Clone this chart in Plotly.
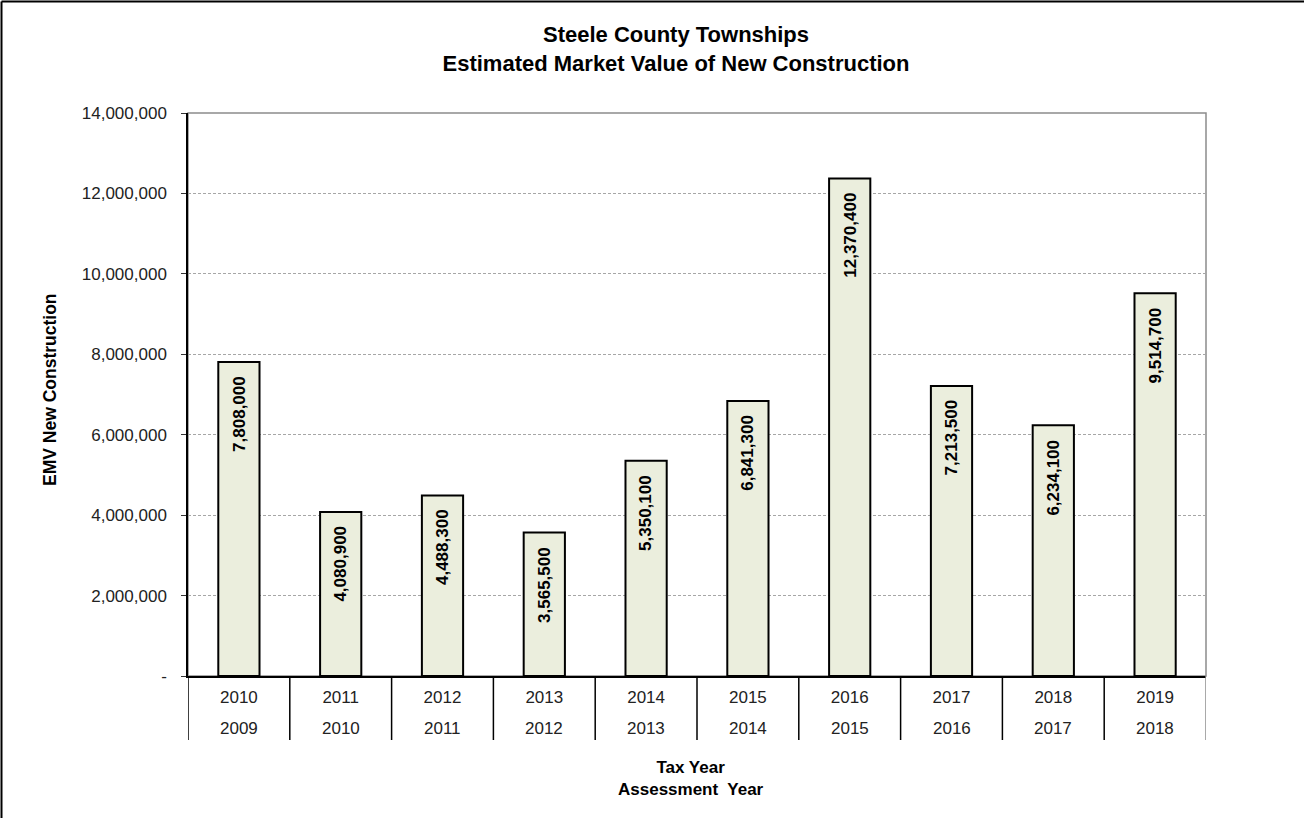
import plotly.graph_objects as go

# Tax year / assessment year pairs and estimated market value of new construction
tax_years = ["2010", "2011", "2012", "2013", "2014", "2015", "2016", "2017", "2018", "2019"]
assessment_years = ["2009", "2010", "2011", "2012", "2013", "2014", "2015", "2016", "2017", "2018"]
emv_values = [7808000, 4080900, 4488300, 3565500, 5350100, 6841300, 12370400, 7213500, 6234100, 9514700]

y_tick_vals = [0, 2000000, 4000000, 6000000, 8000000, 10000000, 12000000, 14000000]
y_tick_text = ["-", "2,000,000", "4,000,000", "6,000,000", "8,000,000", "10,000,000", "12,000,000", "14,000,000"]

FONT = "Arial, 'Liberation Sans', sans-serif"
W, H = 1304, 818
ML, MR, MT, MB = 188, 98, 113, 142
PW, PH = W - ML - MR, H - MT - MB


def px_to_paper_x(px):
    return (px - ML) / PW


def px_to_paper_y(py):
    return (H - MB - py) / PH


n = len(tax_years)

fig = go.Figure()

fig.add_trace(go.Bar(
    x=tax_years,
    y=emv_values,
    customdata=assessment_years,
    marker=dict(color="#EBEEDD", line=dict(color="#000000", width=2)),
    width=0.405,
    hovertemplate="Tax year %{x}<br>Assessment year %{customdata}<br>%{y:,}<extra></extra>",
))

annotations = []

# value labels, rotated, just inside the top of each bar (x given as category index)
for i, v in enumerate(emv_values):
    annotations.append(dict(
        x=i, y=v, xref="x", yref="y",
        text=f"{v:,}", textangle=-90, showarrow=False,
        xanchor="center", yanchor="top", yshift=-12,
        font=dict(family=FONT, size=17, color="#000000", weight="bold"),
    ))

# second label row: assessment year under each tax year
for i, a in enumerate(assessment_years):
    annotations.append(dict(
        x=i, y=px_to_paper_y(728), xref="x", yref="paper",
        text=a, showarrow=False, xanchor="center", yanchor="middle",
        font=dict(family=FONT, size=17, color="#222222"),
    ))

# axis titles
annotations.append(dict(
    x=px_to_paper_x(50), y=px_to_paper_y(390), xref="paper", yref="paper",
    text="EMV New Construction", textangle=-90, showarrow=False,
    xanchor="center", yanchor="middle",
    font=dict(family=FONT, size=17.5, color="#000000", weight="bold"),
))
annotations.append(dict(
    x=px_to_paper_x(691), y=px_to_paper_y(778), xref="paper", yref="paper",
    text="Tax Year<br>Assessment  Year", showarrow=False,
    xanchor="center", yanchor="middle",
    font=dict(family=FONT, size=17, color="#000000", weight="bold"),
))

shapes = [
    # plot frame (top and right edges)
    dict(type="rect", xref="paper", yref="paper", x0=0, x1=1, y0=0, y1=1,
         line=dict(color="#8C8C8C", width=1.5), layer="below"),
    # outer chart border (left and top)
    dict(type="line", xref="paper", yref="paper",
         x0=px_to_paper_x(1.5), x1=px_to_paper_x(1.5), y0=px_to_paper_y(1.5), y1=px_to_paper_y(H + 5),
         line=dict(color="#000000", width=2)),
    dict(type="line", xref="paper", yref="paper",
         x0=px_to_paper_x(1.5), x1=px_to_paper_x(W + 5), y0=px_to_paper_y(1.5), y1=px_to_paper_y(1.5),
         line=dict(color="#000000", width=2)),
]

# category table separators below the axis
for i in range(n + 1):
    shapes.append(dict(
        type="line", xref="x", yref="paper",
        x0=i - 0.5, x1=i - 0.5, y0=0, y1=px_to_paper_y(740),
        line=dict(color="#8C8C8C" if i == n else "#000000", width=1.5),
    ))

fig.update_layout(
    width=W, height=H,
    margin=dict(l=ML, r=MR, t=MT, b=MB, autoexpand=False),
    paper_bgcolor="#FFFFFF",
    plot_bgcolor="#FFFFFF",
    showlegend=False,
    bargap=0.6,
    title=dict(
        text="Steele County Townships<br>Estimated Market Value of New Construction",
        x=676 / W, xanchor="center",
        y=1 - 42 / H, yanchor="middle",
        font=dict(family=FONT, size=22, color="#000000", weight="bold"),
    ),
    font=dict(family=FONT, size=17, color="#222222"),
    annotations=annotations,
    shapes=shapes,
    xaxis=dict(
        type="category",
        categoryorder="array", categoryarray=tax_years,
        showline=True, linecolor="#000000", linewidth=1.5,
        showgrid=False,
        ticks="",
        ticklabelstandoff=5,
        tickfont=dict(family=FONT, size=17, color="#222222"),
        range=[-0.5, n - 0.5],
    ),
    yaxis=dict(
        range=[0, 14000000],
        tickvals=y_tick_vals, ticktext=y_tick_text,
        showline=True, linecolor="#000000", linewidth=1.5,
        ticks="outside", ticklen=5, tickcolor="#333333", tickwidth=1,
        ticklabelstandoff=11,
        showgrid=True, gridcolor="#A6A6A6", gridwidth=1, griddash="3px,2px",
        zeroline=False,
        tickfont=dict(family=FONT, size=17, color="#222222"),
    ),
)

fig.write_html("out.html")
